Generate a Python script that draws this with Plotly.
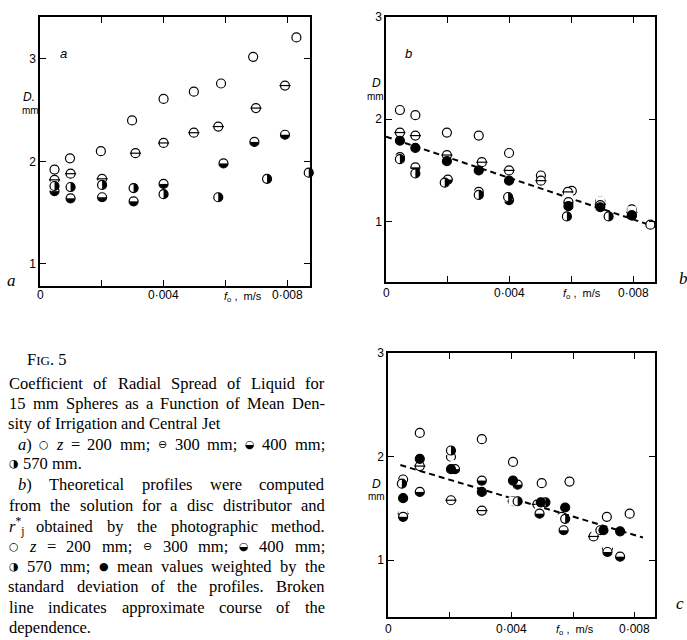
import plotly.graph_objects as go

# ---------------- data ----------------
# Panel a
a_x200 = [0.00047, 0.00097, 0.00197, 0.00298, 0.0040, 0.00498, 0.00586, 0.0069, 0.0083]
a_y200 = [1.92, 2.03, 2.10, 2.40, 2.61, 2.68, 2.76, 3.02, 3.21]
a_x300 = [0.00047, 0.00099, 0.00201, 0.00309, 0.0040, 0.00498, 0.00577, 0.00699, 0.00793]
a_y300 = [1.82, 1.88, 1.83, 2.08, 2.18, 2.28, 2.34, 2.52, 2.74]
a_x400 = [0.00047, 0.00099, 0.00201, 0.00303, 0.0040, 0.00594, 0.00694, 0.00793]
a_y400 = [1.71, 1.64, 1.65, 1.61, 1.78, 1.98, 2.19, 2.26]
a_x570 = [0.00047, 0.00099, 0.00201, 0.00303, 0.0040, 0.00577, 0.00735, 0.0087]
a_y570 = [1.76, 1.75, 1.77, 1.74, 1.68, 1.65, 1.83, 1.89]

# Panel b
b_x200 = [0.00045, 0.00095, 0.00197, 0.0030, 0.00398, 0.00501, 0.00601, 0.00693, 0.00795, 0.00855]
b_y200 = [2.09, 2.04, 1.87, 1.84, 1.67, 1.45, 1.30, 1.20, 1.12, 0.97]
b_x300 = [0.00045, 0.00095, 0.00197, 0.0031, 0.00398, 0.00501, 0.00588, 0.00693, 0.00795]
b_y300 = [1.87, 1.84, 1.65, 1.58, 1.50, 1.40, 1.29, 1.17, 1.09]
b_x400 = [0.00045, 0.00095, 0.0020, 0.0030, 0.00398, 0.0059, 0.00693, 0.00795]
b_y400 = [1.63, 1.53, 1.41, 1.29, 1.21, 1.19, 1.16, 1.06]
b_x570 = [0.00045, 0.00095, 0.0019, 0.0030, 0.00395, 0.00585, 0.0072, 0.00875]
b_y570 = [1.61, 1.47, 1.38, 1.26, 1.24, 1.05, 1.05, 0.97]
b_xm = [0.00045, 0.00095, 0.00197, 0.0030, 0.00398, 0.0059, 0.00693, 0.00795]
b_ym = [1.79, 1.72, 1.59, 1.50, 1.40, 1.15, 1.14, 1.06]
b_line_x = [0.0, 0.0087]
b_line_y = [1.83, 0.95]

# Panel c
c_x200 = [0.00049, 0.00103, 0.00204, 0.00304, 0.00405, 0.00498, 0.00588, 0.00709, 0.00783]
c_y200 = [1.78, 2.23, 2.00, 2.17, 1.95, 1.745, 1.76, 1.42, 1.45]
c_x300 = [0.00049, 0.00103, 0.00204, 0.00304, 0.00405, 0.00484, 0.00563, 0.00666, 0.00711]
c_y300 = [1.45, 1.91, 1.58, 1.48, 1.57, 1.54, 1.42, 1.23, 1.11]
c_x400 = [0.00049, 0.00103, 0.00217, 0.00304, 0.0042, 0.00491, 0.00569, 0.00711, 0.00752]
c_y400 = [1.42, 1.66, 1.88, 1.77, 1.73, 1.45, 1.29, 1.08, 1.035]
c_x570 = [0.00045, 0.00204, 0.0042, 0.0051, 0.00574, 0.00688]
c_y570 = [1.74, 2.06, 1.57, 1.56, 1.40, 1.29]
c_xm = [0.00049, 0.00103, 0.00204, 0.00304, 0.00405, 0.00495, 0.00574, 0.00698, 0.00752]
c_ym = [1.60, 1.98, 1.88, 1.66, 1.77, 1.56, 1.51, 1.29, 1.28]
c_line_x = [0.0004, 0.00826]
c_line_y = [1.92, 1.22]

x_tickvals = [0, 0.002, 0.004, 0.006, 0.008]
x_ticktext = ["0", "", "0·004", "", "0·008"]
y_tickvals = [1, 2, 3]
y_ticktext = ["1", "2", "3"]

# ---------------- layout helpers ----------------
W, H = 687, 640


def px(x):
    return x / W


def py(y):
    return 1 - y / H


PANELS = {
    "a": dict(l=40, r=310, t=10, b=282, xr=[0, 0.00874], yr=[0.785, 3.41], ax="", lab_y=291),
    "b": dict(l=386, r=655, t=10, b=278, xr=[0, 0.0087], yr=[0.41, 3.0], ax="2", lab_y=289),
    "c": dict(l=388, r=655, t=350, b=617, xr=[0, 0.00865], yr=[0.45, 3.0], ax="3", lab_y=629),
}

fig = go.Figure()
MS = 9
LW = 1.2
OPEN = "rgba(0,0,0,0)"


def add_series(ax, x, y, kind):
    xa = "x" + ax
    ya = "y" + ax
    common = dict(x=x, y=y, xaxis=xa, yaxis=ya, showlegend=False,
                  hoverinfo="skip", cliponaxis=False, mode="markers")
    outline = dict(symbol="circle", size=MS, color="white",
                   line=dict(color="black", width=LW))
    if kind == "200":
        fig.add_trace(go.Scatter(marker=outline, **common))
    elif kind == "300":
        fig.add_trace(go.Scatter(marker=outline, **common))
        fig.add_trace(go.Scatter(marker=dict(
            symbol="line-ew", size=MS - 1, color="black",
            line=dict(color="black", width=LW)), **common))
    elif kind in ("400", "570"):
        # black disc, half of it masked white, then the outline
        # 400 mm: upper half white (lower half black); 570 mm: left half white
        ang = 180 if kind == "400" else 90
        fig.add_trace(go.Scatter(marker=dict(symbol="circle", size=MS, color="black",
                                             line=dict(width=0)), **common))
        fig.add_trace(go.Scatter(marker=dict(symbol="square", size=MS, color="white",
                                             angle=ang, standoff=MS / 2,
                                             line=dict(width=0)), **common))
        fig.add_trace(go.Scatter(marker=dict(symbol="circle", size=MS, color=OPEN,
                                             line=dict(color="black", width=LW)), **common))
    elif kind == "mean":
        fig.add_trace(go.Scatter(marker=dict(
            symbol="circle", size=MS, color="black",
            line=dict(color="black", width=LW)), **common))


def add_line(ax, x, y):
    fig.add_trace(go.Scatter(x=x, y=y, xaxis="x" + ax, yaxis="y" + ax,
                             mode="lines", showlegend=False, hoverinfo="skip",
                             line=dict(color="black", width=2, dash="6px,4px")))


# panel a
add_series("", a_x200, a_y200, "200")
add_series("", a_x300, a_y300, "300")
add_series("", a_x400, a_y400, "400")
add_series("", a_x570, a_y570, "570")
# panel b
add_line("2", b_line_x, b_line_y)
add_series("2", b_x200, b_y200, "200")
add_series("2", b_x300, b_y300, "300")
add_series("2", b_x400, b_y400, "400")
add_series("2", b_x570, b_y570, "570")
add_series("2", b_xm, b_ym, "mean")
# panel c
add_line("3", c_line_x, c_line_y)
add_series("3", c_x200, c_y200, "200")
add_series("3", c_x300, c_y300, "300")
add_series("3", c_x400, c_y400, "400")
add_series("3", c_x570, c_y570, "570")
add_series("3", c_xm, c_ym, "mean")

TICKFONT = dict(family="Liberation Sans", size=12, color="black")
layout = dict(width=W, height=H, margin=dict(l=0, r=0, t=0, b=0),
              paper_bgcolor="white", plot_bgcolor="white")
ann = []

for name, p in PANELS.items():
    axn = p["ax"]
    layout["xaxis" + axn] = dict(
        domain=[px(p["l"]), px(p["r"])], range=p["xr"], anchor="y" + axn,
        showline=True, mirror="ticks", linecolor="black", linewidth=1.5,
        ticks="inside", ticklen=6, tickwidth=1.2, tickcolor="black",
        tickvals=x_tickvals, showticklabels=False,
        showgrid=False, zeroline=False, fixedrange=True)
    layout["yaxis" + axn] = dict(
        domain=[py(p["b"]), py(p["t"])], range=p["yr"], anchor="x" + axn,
        showline=True, mirror="ticks", linecolor="black", linewidth=1.5,
        ticks="inside", ticklen=6, tickwidth=1.2, tickcolor="black",
        tickvals=y_tickvals, ticktext=y_ticktext, tickfont=TICKFONT,
        showgrid=False, zeroline=False, fixedrange=True)
    # x tick labels placed just under the axis, at the axis' own tick values
    for v, t in zip(x_tickvals, x_ticktext):
        if t:
            ann.append(dict(x=v, xref="x" + axn, y=py(p["lab_y"]), yref="paper",
                            text=t, showarrow=False, xanchor="center", yanchor="middle",
                            font=TICKFONT))
fig.update_layout(**layout)


def text(x, y, s, size=12, family="Liberation Sans", xanchor="center", color="black"):
    ann.append(dict(x=px(x), y=py(y), xref="paper", yref="paper", text=s,
                    showarrow=False, xanchor=xanchor, yanchor="middle",
                    font=dict(family=family, size=size, color=color)))


# axis labels & panel letters
text(29, 91, "<i>D.</i>", 12)
text(30, 105, "mm", 10)
text(63, 47, "<i>a</i>", 13)
text(243, 293, "<i>f</i><sub>o</sub> ,  m/s", 11)
text(11, 277, "<i>a</i>", 17, "Liberation Serif")

text(376, 77, "<i>D</i>", 12)
text(375, 90, "mm", 10)
text(408, 47, "<i>b</i>", 13)
text(582, 290, "<i>f</i><sub>o</sub> ,  m/s", 11)
text(683, 274, "<i>b</i>", 17, "Liberation Serif")

text(376, 482, "<i>D</i>", 12)
text(376, 495, "mm", 10)
text(575, 630, "<i>f</i><sub>o</sub> ,  m/s", 11)
text(680, 603, "<i>c</i>", 17, "Liberation Serif")

# ---------------- caption (justified serif text) ----------------
FS = 16.5
ROMAN = dict(zip("abcdefghijklmnopqrstuvwxyz",
                 [444, 500, 444, 500, 444, 333, 500, 500, 278, 278, 500, 278, 778,
                  500, 500, 500, 500, 333, 389, 278, 500, 500, 722, 500, 500, 444]))
ROMAN.update(dict(zip("ABCDEFGHIJKLMNOPQRSTUVWXYZ",
                      [722, 667, 667, 722, 611, 556, 722, 722, 333, 389, 722, 611, 889,
                       722, 722, 556, 722, 667, 556, 611, 722, 722, 944, 722, 722, 611])))
ROMAN.update({c: 500 for c in "0123456789"})
ROMAN.update({".": 250, ",": 250, ";": 278, ":": 278, "-": 333, "=": 564,
              "(": 333, ")": 333, "*": 500, " ": 250})
SYMBOLS = {"○", "⊖", "◒", "◑", "●"}


def token(word):
    """return (html, width_px, family, size)"""
    if word in SYMBOLS:
        return (word, 10.0, "DejaVu Sans", 11)
    if word in ("a)", "b)"):
        return ("<i>%s</i>)" % word[0], (500 + 333) * FS / 1000, "Liberation Serif", FS)
    if word == "z":
        return ("<i>z</i>", 389 * FS / 1000, "Liberation Serif", FS)
    if word == "r*j":
        return ("<i>r</i><sup>*</sup><sub>j</sub>", 14.0, "Liberation Serif", FS)
    w = sum(ROMAN.get(ch, 500) for ch in word) * FS / 1000
    return (word, w, "Liberation Serif", FS)


def caption_line(y, words, x0, x1=None):
    toks = [token(w) for w in words.split()]
    total = sum(t[1] for t in toks)
    if x1 is None or len(toks) < 2:
        gap = 250 * FS / 1000
    else:
        gap = (x1 - x0 - total) / (len(toks) - 1)
    x = x0
    for html, w, fam, size in toks:
        text(x + w / 2, y, html, size, fam)
        x += w + gap


text(25, 356, "F<span style='font-size:13px'>IG</span>. 5", FS, "Liberation Serif", xanchor="left")
R = 325
caption_line(381, "Coefficient of Radial Spread of Liquid for", 9, R)
caption_line(401, "15 mm Spheres as a Function of Mean Den-", 9, R)
caption_line(421, "sity of Irrigation and Central Jet", 9)
caption_line(442, "a) ○ z = 200 mm; ⊖ 300 mm; ◒ 400 mm;", 18, R)
caption_line(462, "◑ 570 mm.", 9)
caption_line(483, "b) Theoretical profiles were computed", 18, R)
caption_line(504, "from the solution for a disc distributor and", 9, R)
caption_line(525, "r*j obtained by the photographic method.", 9, R)
caption_line(545, "○ z = 200 mm; ⊖ 300 mm; ◒ 400 mm;", 9, R)
caption_line(566, "◑ 570 mm; ● mean values weighted by the", 9, R)
caption_line(586, "standard deviation of the profiles. Broken", 9, R)
caption_line(607, "line indicates approximate course of the", 9, R)
caption_line(627, "dependence.", 9)

fig.update_layout(annotations=ann)
fig.write_html("out.html", config={"displayModeBar": False},
               post_script="document.body.style.margin='0';")
